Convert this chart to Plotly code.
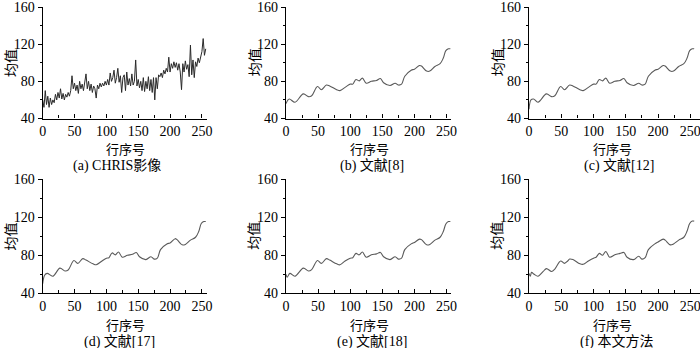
import plotly.graph_objects as go

# ---------------- data ----------------
rows_a = list(range(0, 257, 2))
vals_a = [60, 52, 70, 55, 64, 52, 62, 55, 60, 57,
          66, 60, 68, 62, 72, 61, 67, 60, 66, 63,
          68, 64, 70, 86, 72, 78, 70, 76, 67, 80,
          72, 77, 70, 80, 88, 72, 80, 70, 77, 68,
          75, 72, 62, 76, 72, 78, 74, 78, 75, 80,
          76, 82, 76, 89, 80, 84, 92, 78, 84, 94,
          79, 86, 68, 84, 87, 70, 90, 76, 83, 75,
          88, 76, 80, 103, 75, 82, 73, 80, 70, 84,
          69, 80, 72, 85, 70, 82, 68, 84, 60, 84,
          72, 87, 85, 89, 84, 92, 88, 94, 90, 106,
          90, 99, 94, 101, 95, 100, 92, 99, 90, 71,
          99, 90, 102, 93, 98, 85, 119, 87, 103, 84,
          101, 96, 105, 100, 108, 112, 126, 108, 115]

rows_b = [0, 5, 14, 27, 35, 40, 49, 55, 63, 68, 79, 84, 92, 100, 104, 109, 114, 119, 125, 133,
          141, 147, 152, 162, 170, 175, 180, 185, 195, 200, 208, 211, 219, 224, 232, 240, 245, 249, 253, 256]
vals_b = [56, 61, 57.5, 66.5, 63.5, 64.5, 74.5, 71, 76, 75, 71, 70, 73.5, 77, 77, 82, 80.5, 83.5, 78, 80,
          81, 83, 78.5, 75.5, 78, 76, 77, 85.5, 92, 93, 97, 96.5, 91, 91, 96, 99, 105, 113, 115, 115]

rows_c = [0, 3, 7, 14, 27, 35, 40, 49, 55, 63, 68, 79, 84, 92, 100, 104, 109, 114, 119, 125, 133,
          141, 147, 152, 162, 170, 175, 180, 185, 195, 200, 208, 211, 219, 224, 232, 240, 245, 249, 253, 256]
vals_c = [50, 60, 61, 57.5, 66.5, 63.5, 64.5, 74.5, 71, 76, 75, 71, 70, 73.5, 77, 77, 82, 80.5, 83.5, 78, 80,
          81, 83, 78.5, 75.5, 78, 76, 77, 85.5, 92, 93, 97, 96.5, 91, 91, 96, 99, 105, 113, 115, 115]

rows_d = [0, 3, 7, 16, 27, 35, 40, 49, 55, 63, 68, 79, 84, 92, 100, 104, 109, 114, 119, 125, 133,
          141, 147, 152, 162, 170, 175, 180, 185, 195, 200, 208, 211, 219, 224, 232, 240, 245, 249, 253, 256]
vals_d = [50, 59, 61, 58, 66.5, 63.5, 64.5, 74.5, 71.5, 76.5, 75, 71, 70, 73.5, 77, 77.5, 82.5, 80.5, 83.5, 78, 80,
          81, 83, 78.5, 75.5, 78.5, 76, 77, 86, 92, 93, 97.5, 96.5, 91, 91.5, 96, 99, 105, 113.5, 115.5, 115.5]

rows_e = [0, 2, 6, 14, 27, 35, 40, 49, 55, 63, 68, 79, 84, 92, 100, 104, 109, 114, 119, 125, 133,
          141, 147, 152, 162, 170, 175, 180, 185, 195, 200, 208, 211, 219, 224, 232, 240, 245, 249, 253, 256]
vals_e = [60, 57, 61, 58, 66.5, 63.5, 65, 74.5, 71.5, 76.5, 75, 71, 70, 74, 77, 77.5, 82, 80.5, 83.5, 78, 80.5,
          81.5, 83, 78.5, 75.5, 78.5, 76, 77, 86, 92, 93.5, 97, 96.5, 91, 91.5, 96, 99, 105, 113, 115.5, 115.5]

rows_f = [0, 2, 4, 8, 14, 22, 27, 35, 40, 49, 55, 60, 63, 68, 79, 84, 92, 100, 104, 109, 114, 119, 125, 133,
          141, 147, 152, 162, 170, 175, 180, 185, 195, 200, 208, 211, 219, 224, 232, 240, 245, 249, 253, 256]
vals_f = [61, 58, 62, 60, 58, 63, 66, 63, 65.5, 74, 71.5, 74, 76, 75.5, 71, 70.5, 74, 77, 78, 82, 80, 84, 78, 80.5,
          82, 83, 78, 75.5, 79, 76, 77.5, 86, 92, 94, 97, 96, 91, 92, 96, 99, 105.5, 113.5, 116, 116]

captions = ["(a) CHRIS影像", "(b) 文献[8]", "(c) 文献[12]",
            "(d) 文献[17]", "(e) 文献[18]", "(f) 本文方法"]
x_title = "行序号"
y_title = "均值"
y_ticks = [40, 80, 120, 160]
x_ticks = [0, 50, 100, 150, 200, 250]

series = [(rows_a, vals_a), (rows_b, vals_b), (rows_c, vals_c),
          (rows_d, vals_d), (rows_e, vals_e), (rows_f, vals_f)]

# ---------------- layout geometry (pixels) ----------------
W, H = 700, 348
cols = [(42.7, 207, 258), (286, 451, 257), (529, 700, 265)]
rowsg = [(7, 118.5), (179.3, 293.3)]
xtitle_y = [148, 324]
cap_y = [166, 342]
cap_x = [117, 372, 619, 119, 372, 617]

SERIF = "Liberation Serif, Times New Roman, Noto Sans CJK SC"
CJK = "Noto Sans CJK SC"

def px(x):
    return x / W

def py(y):
    return 1 - y / H

fig = go.Figure()
layout = dict(width=W, height=H, margin=dict(l=0, r=0, t=0, b=0, autoexpand=False),
              paper_bgcolor="white", plot_bgcolor="white", showlegend=False)
annotations = []

for i, (rx, vy) in enumerate(series):
    r, c = divmod(i, 3)
    left, right, xmax = cols[c]
    top, bot = rowsg[r]
    n = "" if i == 0 else str(i + 1)
    color = "#2a2a2a" if i == 0 else "#5a5a5a"
    fig.add_trace(go.Scatter(
        x=rx, y=vy, mode="lines", cliponaxis=True,
        line=dict(color=color, width=1.0 if i == 0 else 1.1,
                  shape="linear" if i == 0 else "spline"),
        xaxis="x" + n, yaxis="y" + n, hoverinfo="skip"))
    layout["xaxis" + n] = dict(
        domain=[px(left), px(right)], range=[0, xmax], anchor="y" + n, automargin=False,
        ticklabeloverflow="allow",
        showgrid=False, zeroline=False, showline=True, linecolor="black", linewidth=1.2,
        tickvals=x_ticks, ticks="inside", ticklen=4, tickcolor="black", tickwidth=1,
        minor=dict(tickvals=[25, 75, 125, 175, 225], ticks="inside", ticklen=3,
                   tickcolor="black", tickwidth=1),
        tickfont=dict(family=SERIF, size=14, color="black"))
    layout["yaxis" + n] = dict(
        domain=[py(bot), py(top)], range=[40, 160], anchor="x" + n, automargin=False,
        ticklabeloverflow="allow",
        showgrid=False, zeroline=False, showline=True, linecolor="black", linewidth=1.2,
        tickvals=y_ticks, ticks="outside", ticklen=4, tickcolor="black", tickwidth=1,
        minor=dict(tickvals=[60, 100, 140], ticks="outside", ticklen=2,
                   tickcolor="black", tickwidth=1),
        tickfont=dict(family=SERIF, size=14, color="black"))
    annotations.append(dict(x=px(left - 32.5), y=py((top + bot) / 2), xref="paper", yref="paper",
                            text=y_title, textangle=-90, showarrow=False,
                            font=dict(family=CJK, size=14, color="black"),
                            xanchor="center", yanchor="middle"))
    x250 = left + (right - left) * 250 / xmax
    annotations.append(dict(x=px((left + x250) / 2 + 3), y=py(xtitle_y[r]), xref="paper", yref="paper",
                            text=x_title, showarrow=False,
                            font=dict(family=CJK, size=13, color="black"),
                            xanchor="center", yanchor="middle"))
    annotations.append(dict(x=px(cap_x[i]), y=py(cap_y[r]), xref="paper", yref="paper",
                            text=captions[i], showarrow=False,
                            font=dict(family=SERIF, size=14, color="black"),
                            xanchor="center", yanchor="middle"))

layout["annotations"] = annotations
fig.update_layout(**layout)
fig.write_html("out.html", config={"displayModeBar": False},
               post_script="document.body.style.margin='0';document.body.style.overflow='hidden';")
